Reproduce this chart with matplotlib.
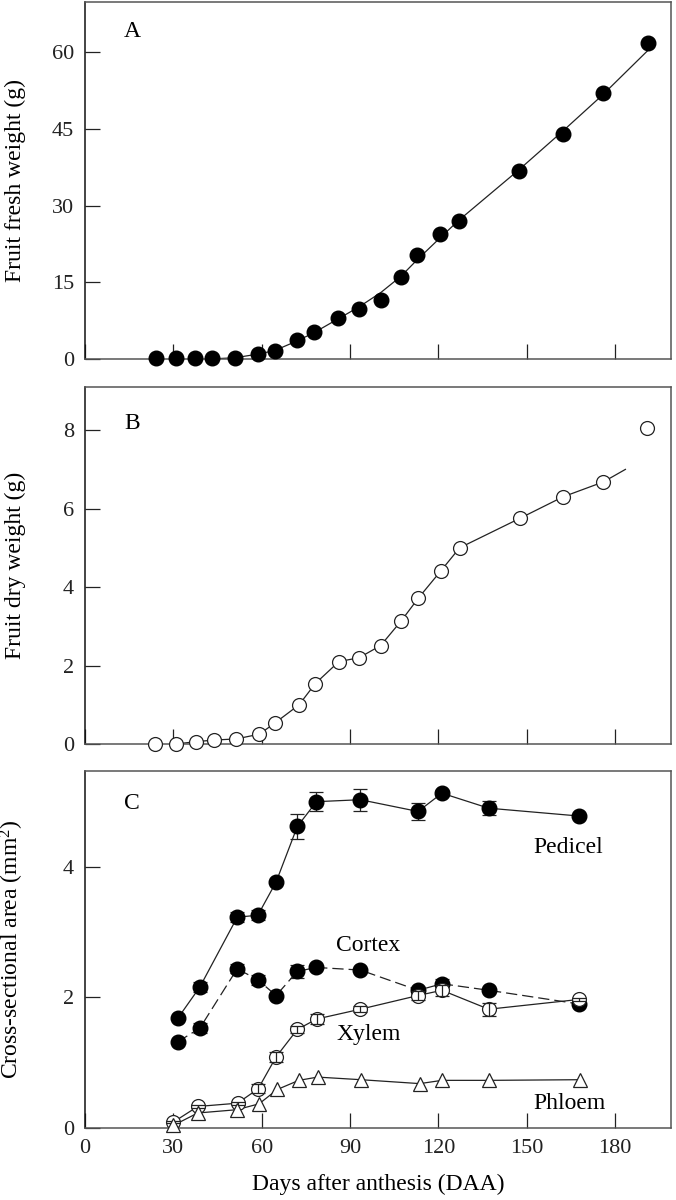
import numpy as np
import matplotlib
matplotlib.use('Agg')
from matplotlib import pyplot as plt

plt.rcParams['font.family'] = ['Liberation Serif', 'DejaVu Serif']
plt.rcParams['mathtext.fontset'] = 'custom'
plt.rcParams['mathtext.rm'] = 'Liberation Serif'
plt.rcParams['mathtext.default'] = 'regular'

# panel A - fruit fresh weight
daysA = [24.2, 31.0, 37.4, 43.3, 51.0, 58.6, 64.4, 72.1, 77.8, 86.0, 93.0, 100.4,
         107.3, 112.6, 120.4, 126.9, 147.4, 162.2, 175.8, 191.2]
fresh = [0.2, 0.2, 0.2, 0.2, 0.3, 1.0, 1.6, 3.7, 5.3, 8.0, 9.8, 11.6,
         16.0, 20.4, 24.4, 27.0, 36.8, 44.0, 51.9, 61.8]
fit_days = [44, 51, 58.6, 64.4, 72.1, 77.8, 86, 93, 100.4, 107.3, 112.6, 120.4,
            126.9, 147.4, 162.2, 175.8, 191.2]
fit_fresh = [0.1, 0.3, 1.0, 1.7, 3.6, 5.2, 7.9, 10.2, 13.0, 16.2, 19.3, 23.6,
             27.1, 37.0, 44.5, 51.6, 60.3]

# panel B - fruit dry weight
daysB = [23.7, 30.8, 37.8, 43.8, 51.4, 59.2, 64.4, 72.7, 78.2, 86.2, 93.1, 100.4,
         107.4, 113.1, 120.8, 127.2, 147.6, 162.3, 176.0, 190.9]
dry = [0.0, 0.0, 0.06, 0.10, 0.13, 0.25, 0.53, 1.0, 1.54, 2.10, 2.20, 2.51,
       3.14, 3.71, 4.41, 5.0, 5.75, 6.30, 6.68, 8.06]
dry_end_day = 183.5
dry_end = 7.0

# panel C - cross-sectional areas
daysC = [31.5, 39.0, 51.7, 58.7, 64.9, 72.1, 78.6, 93.5, 113.1, 121.2, 137.1, 167.8]
pedicel = [1.68, 2.16, 3.23, 3.26, 3.77, 4.62, 5.0, 5.03, 4.85, 5.13, 4.90, 4.78]
pedicel_err = [0.03, 0.08, 0.08, 0.08, 0.03, 0.19, 0.15, 0.17, 0.13, 0.05, 0.11, 0.03]
cortex = [1.32, 1.53, 2.44, 2.27, 2.03, 2.40, 2.46, 2.42, 2.11, 2.21, 2.11, 1.90]
cortex_err = [0.02, 0.08, 0.07, 0.08, 0.03, 0.10, 0.03, 0.03, 0.05, 0.08, 0.03, 0.03]
daysX = [30.0, 38.3, 51.8, 58.8, 64.9, 72.1, 78.7, 93.5, 113.1, 121.2, 137.1, 167.8]
xylem = [0.09, 0.33, 0.38, 0.60, 1.09, 1.51, 1.67, 1.82, 2.03, 2.11, 1.82, 1.97]
xylem_err = [0.02, 0.02, 0.02, 0.07, 0.08, 0.05, 0.07, 0.05, 0.07, 0.08, 0.10, 0.02]
daysP = [30.0, 38.3, 51.5, 59.1, 65.3, 72.6, 79.0, 93.7, 113.7, 121.2, 137.3, 168.1]
phloem = [0.04, 0.23, 0.28, 0.37, 0.59, 0.73, 0.78, 0.74, 0.68, 0.73, 0.73, 0.74]

xticks = [0, 30, 60, 90, 120, 150, 180]

fig = plt.figure(figsize=(6.76, 12), dpi=100)
axA = fig.add_axes([0.1257, 0.7006, 0.867, 0.2977])
axB = fig.add_axes([0.1257, 0.38, 0.867, 0.2975])
axC = fig.add_axes([0.1257, 0.06, 0.867, 0.2975])

for ax in (axA, axB, axC):
    ax.set_xlim(0, 199)
    ax.set_xticks(xticks)
    ax.tick_params(direction='in', length=11, width=0.9, labelsize=16,
                   top=False, right=False, pad=8, colors='#222222')
    for s in ax.spines.values():
        s.set_color('#555555')
        s.set_linewidth(1.1)
    ax.spines['left'].set_color('#111111')

# A
axA.plot(fit_days, fit_fresh, '-', color='#222222', lw=0.9)
axA.plot(daysA, fresh, 'o', color='black', ms=10.5, clip_on=False, zorder=3)
axA.set_ylim(0, 69.7)
axA.set_yticks([0, 15, 30, 45, 60])
axA.set_xticklabels([])
axA.set_ylabel('Fruit fresh weight (g)', fontsize=17)
axA.text(15.9, 63.9, 'A', fontsize=17, ha='center', va='center')

# B
axB.plot(daysB[1:19] + [dry_end_day], dry[1:19] + [dry_end], '-', color='#222222', lw=0.9)
axB.plot(daysB, dry, 'o', mfc='white', mec='#222222', mew=0.9, ms=10, clip_on=False, zorder=3)
axB.set_ylim(0, 9.1)
axB.set_yticks([0, 2, 4, 6, 8])
axB.set_xticklabels([])
axB.set_ylabel('Fruit dry weight (g)', fontsize=17)
axB.text(15.9, 8.16, 'B', fontsize=17, ha='center', va='center')

# C
axC.plot(daysC, pedicel, '-', color='#222222', lw=0.9)
axC.errorbar(daysC, pedicel, yerr=pedicel_err, fmt='none', ecolor='#222222',
             elinewidth=0.9, capsize=5, capthick=0.9)
axC.plot(daysC, pedicel, 'o', color='black', ms=10.5, zorder=3)

axC.plot(daysC, cortex, color='#222222', lw=0.9, dashes=(9, 4))
axC.errorbar(daysC, cortex, yerr=cortex_err, fmt='none', ecolor='#222222',
             elinewidth=0.9, capsize=5, capthick=0.9)
axC.plot(daysC, cortex, 'o', color='black', ms=10.5, zorder=3)

axC.plot(daysX, xylem, '-', color='#222222', lw=0.9)
axC.plot(daysX, xylem, 'o', mfc='white', mec='#222222', mew=0.9, ms=10, zorder=4, clip_on=False)
axC.errorbar(daysX, xylem, yerr=xylem_err, fmt='none', ecolor='#222222',
             elinewidth=0.9, capsize=5, capthick=0.9, zorder=5)

axC.plot(daysP, phloem, '-', color='#222222', lw=0.9)
axC.plot(daysP, phloem, '^', mfc='white', mec='#222222', mew=0.9, ms=10, zorder=5, clip_on=False)

axC.set_ylim(0, 5.47)
axC.set_yticks([0, 2, 4])
axC.set_ylabel('Cross-sectional area (mm$^2$)', fontsize=17)
axC.set_xlabel('Days after anthesis (DAA)', fontsize=17, labelpad=11)
axC.text(15.9, 4.97, 'C', fontsize=17, ha='center', va='center')
axC.text(164, 4.30, 'Pedicel', fontsize=17, ha='center', va='center')
axC.text(96.3, 2.79, 'Cortex', fontsize=17, ha='center', va='center')
axC.text(96.3, 1.44, 'Xylem', fontsize=17, ha='center', va='center')
axC.text(164.6, 0.37, 'Phloem', fontsize=17, ha='center', va='center')

for ax in (axA, axB, axC):
    ax.yaxis.set_label_coords(-0.1, 0.5)

plt.savefig('out.png', dpi=100)
